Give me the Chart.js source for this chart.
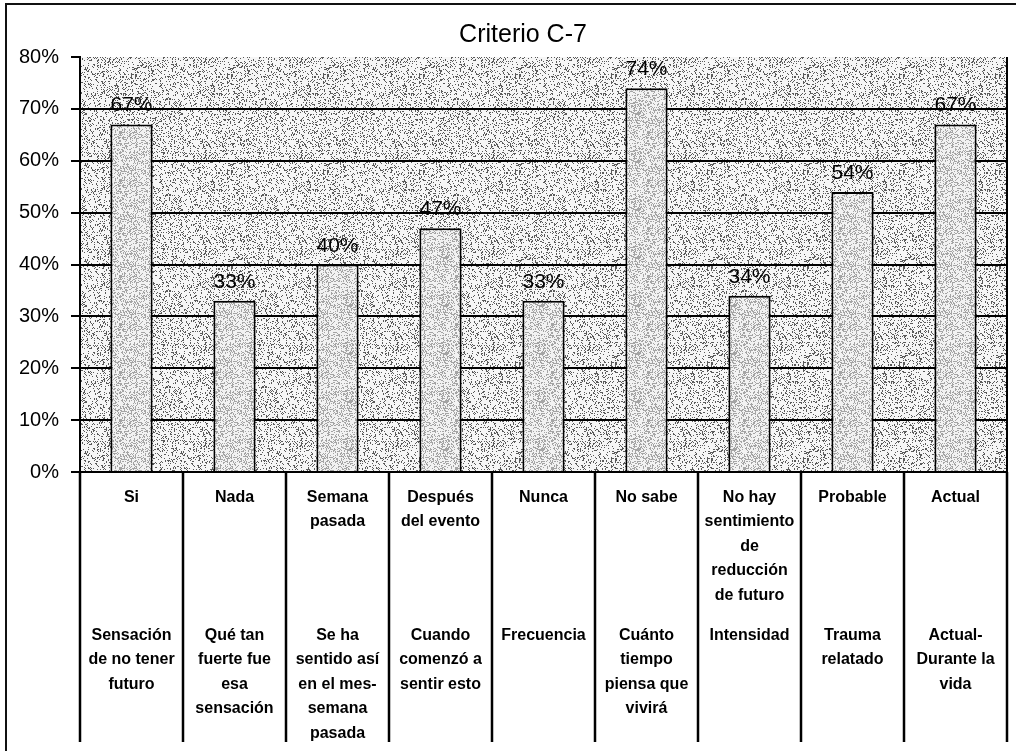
<!DOCTYPE html>
<html>
<head>
<meta charset="utf-8">
<script src="https://cdn.jsdelivr.net/npm/chart.js@4.4.1/dist/chart.umd.min.js"></script>
<style>
  html, body { margin: 0; padding: 0; background: #fff; }
</style>
</head>
<body>
<canvas id="c" width="1016" height="751"></canvas>
<script>
// Response categories (first row under each bar)
const categories = [
  'Si',
  'Nada',
  ['Semana', 'pasada'],
  ['Después', 'del evento'],
  'Nunca',
  'No sabe',
  ['No hay', 'sentimiento', 'de', 'reducción', 'de futuro'],
  'Probable',
  'Actual'
];

// Question each response belongs to (second row)
const questions = [
  ['Sensación', 'de no tener', 'futuro'],
  ['Qué tan', 'fuerte fue', 'esa', 'sensación'],
  ['Se ha', 'sentido así', 'en el mes-', 'semana', 'pasada'],
  ['Cuando', 'comenzó a', 'sentir esto'],
  'Frecuencia',
  ['Cuánto', 'tiempo', 'piensa que', 'vivirá'],
  'Intensidad',
  ['Trauma', 'relatado'],
  ['Actual-', 'Durante la', 'vida']
];

// Percentage per category
const percentages = [67, 33, 40, 47, 33, 74, 34, 54, 67];

// Y axis range and step (percent)
const yMin = 0;
const yMax = 80;
const yStep = 10;

const chartTitle = 'Criterio C-7';

// Integer hash used to scatter the stipple dots of the textures
function hash(x, y, seed) {
  let h = (x * 374761393 + y * 668265263 + seed * 2147483647) | 0;
  h = Math.imul(h ^ (h >>> 13), 1274126177);
  h = h ^ (h >>> 16);
  return (h >>> 0) / 4294967296;
}

function makeTile(size, base, dot, density, seed) {
  const t = document.createElement('canvas');
  t.width = size; t.height = size;
  const g = t.getContext('2d');
  g.fillStyle = base;
  g.fillRect(0, 0, size, size);
  g.fillStyle = dot;
  for (let y = 0; y < size; y++) {
    for (let x = 0; x < size; x++) {
      if (hash(x, y, seed) < density) g.fillRect(x, y, 1, 1);
    }
  }
  return t;
}

const ctx = document.getElementById('c').getContext('2d');
const plotPattern = ctx.createPattern(makeTile(96, '#f6f6f6', '#5a5a5a', 0.2, 7), 'repeat');
const barPattern = ctx.createPattern(makeTile(48, '#f2f2f2', '#a4a4a4', 0.32, 3), 'repeat');

const FONT = "'Liberation Sans', Arial, sans-serif";

// Page background, textured plot area, frame, table rules and title
const framePlugin = {
  id: 'frame',
  beforeDraw(chart) {
    const c = chart.ctx;
    const a = chart.chartArea;
    c.save();
    c.fillStyle = '#ffffff';
    c.fillRect(0, 0, chart.width, chart.height);
    c.fillStyle = plotPattern;
    c.fillRect(a.left, a.top, a.right - a.left, a.bottom - a.top);
    c.restore();
  },
  afterDraw(chart) {
    const c = chart.ctx;
    const a = chart.chartArea;
    const xs = chart.scales.x;
    c.save();
    c.strokeStyle = '#111';
    c.lineWidth = 2;
    // outer frame (left and top edges)
    c.beginPath();
    c.moveTo(6, chart.height + 2);
    c.lineTo(6, 4);
    c.lineTo(chart.width + 2, 4);
    c.stroke();
    // right edge of plot area
    c.strokeStyle = '#000';
    c.beginPath();
    c.moveTo(a.right, a.top);
    c.lineTo(a.right, a.bottom);
    c.stroke();
    // column separators of the label table
    c.lineWidth = 2.5;
    for (let i = 0; i <= categories.length; i++) {
      const x = xs.getPixelForValue(i - 0.5);
      c.beginPath();
      c.moveTo(x, a.bottom);
      c.lineTo(x, 742);
      c.stroke();
    }
    // chart title
    c.fillStyle = '#000';
    c.font = '25px ' + FONT;
    c.textAlign = 'center';
    c.textBaseline = 'middle';
    c.fillText(chartTitle, 523, 35);
    c.restore();
  }
};

// Percentage label above each bar
const valueLabels = {
  id: 'valueLabels',
  afterDatasetsDraw(chart) {
    const c = chart.ctx;
    const meta = chart.getDatasetMeta(0);
    c.save();
    c.fillStyle = '#000';
    c.font = '21px ' + FONT;
    c.textAlign = 'center';
    c.textBaseline = 'alphabetic';
    meta.data.forEach((bar, i) => {
      c.fillText(percentages[i] + '%', bar.x, bar.y - 13);
    });
    c.restore();
  }
};

const tickFont = { family: FONT, size: 16, weight: 'bold', lineHeight: 1.53 };

new Chart(ctx, {
  type: 'bar',
  data: {
    labels: categories,
    datasets: [{
      data: percentages,
      xAxisID: 'x',
      backgroundColor: barPattern,
      borderColor: '#000',
      borderWidth: 2,
      barPercentage: 0.41,
      categoryPercentage: 1
    }]
  },
  options: {
    responsive: false,
    animation: false,
    devicePixelRatio: 1,
    layout: { padding: { left: 0, right: 9, top: 57, bottom: 0 } },
    plugins: {
      legend: { display: false },
      tooltip: { enabled: false },
      title: { display: false }
    },
    scales: {
      y: {
        min: yMin,
        max: yMax,
        ticks: {
          stepSize: yStep,
          color: '#000',
          padding: 12,
          font: { family: FONT, size: 20 },
          callback: v => v + '%'
        },
        grid: {
          color: c => (c.tick && c.tick.value === yMax) ? 'rgba(0,0,0,0)' : '#000',
          lineWidth: 2,
          tickLength: 9,
          tickColor: '#000',
          tickWidth: 2
        },
        border: { color: '#000', width: 2 },
        afterFit: s => { s.width = 80; }
      },
      x: {
        type: 'category',
        position: 'bottom',
        labels: categories,
        offset: true,
        grid: { display: false, drawTicks: false },
        border: { display: true, color: '#000', width: 2 },
        ticks: {
          color: '#000',
          autoSkip: false,
          maxRotation: 0,
          minRotation: 0,
          padding: 13,
          font: tickFont
        },
        afterFit: s => { s.height = 138; }
      },
      x2: {
        type: 'category',
        position: 'bottom',
        labels: questions,
        offset: true,
        grid: { display: false, drawTicks: false },
        border: { display: false },
        ticks: {
          color: '#000',
          autoSkip: false,
          maxRotation: 0,
          minRotation: 0,
          padding: 13,
          font: tickFont
        },
        afterFit: s => { s.height = 141; }
      }
    }
  },
  plugins: [framePlugin, valueLabels]
});
</script>
</body>
</html>
